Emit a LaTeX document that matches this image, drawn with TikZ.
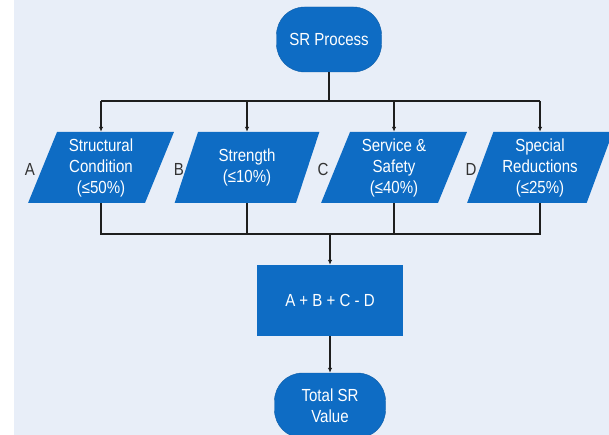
\documentclass[tikz,border=0pt]{standalone}
\usepackage{fontspec}
\setmainfont{Liberation Sans}[FakeStretch=0.86]
\usetikzlibrary{shapes.geometric,arrows.meta}
\definecolor{bgcol}{RGB}{232,238,248}
\definecolor{boxblue}{RGB}{14,108,196}
\definecolor{linecol}{RGB}{30,30,30}
\tikzset{
  txt/.style={font=\fontsize{17.5}{21}\selectfont, text=white, align=center},
  term/.style={txt, fill=boxblue, draw=boxblue!85!black, line width=0.4pt, rectangle, rounded corners=28pt, inner sep=0pt},
  para/.style={txt, fill=boxblue, draw=none, trapezium, trapezium left angle=70, trapezium right angle=110,
     trapezium stretches=true, minimum width=146pt, minimum height=71pt, inner sep=0pt},
  procbox/.style={txt, fill=boxblue, draw=none, rectangle, minimum width=146pt, minimum height=71pt},
  lab/.style={font=\fontsize{17.5}{21}\selectfont, text=black!80},
  conn/.style={draw=linecol, line width=1.3pt},
  arr/.style={conn, -{Latex[length=5pt,width=4.5pt]}}
}
\begin{document}
\begin{tikzpicture}[x=1pt,y=-1pt]
\useasboundingbox (0,0) rectangle (609,435);
\fill[bgcol] (14,0) rectangle (609,435);

\node[term, minimum width=105pt, minimum height=65pt] (sr) at (329,39.5) {SR Process};

\node[para] (A) at (101,167.5) {Structural\\Condition\\(≤50\%)};
\node[para] (B) at (247,167.5) {Strength\\(≤10\%)};
\node[para] (C) at (394,167.5) {Service \&\\Safety\\(≤40\%)};
\node[para] (D) at (540,167.5) {Special\\Reductions\\(≤25\%)};

\node[lab] (la) at (30,169) {A};
\node[lab] (lb) at (179,169) {B};
\node[lab] (lc) at (323,169) {C};
\node[lab] (ld) at (471,169) {D};

\node[procbox] (sum) at (330,300.5) {A + B + C - D};

\node[term, minimum width=111pt, minimum height=65pt] (tot) at (330,405.5) {Total SR\\Value};

\coordinate (tb) at (330,101);
\coordinate (bb) at (330,234);

\draw[conn] (sr.south) -- (sr.south |- tb);
\draw[conn] (A.north |- tb) -- (D.north |- tb);
\draw[arr] (A.north |- tb) -- (A.north);
\draw[arr] (B.north |- tb) -- (B.north);
\draw[arr] (C.north |- tb) -- (C.north);
\draw[arr] (D.north |- tb) -- (D.north);

\draw[conn] (A.south) -- (A.south |- bb) -- (D.south |- bb) -- (D.south);
\draw[conn] (B.south) -- (B.south |- bb);
\draw[conn] (C.south) -- (C.south |- bb);
\draw[arr] (bb) -- (sum.north);
\draw[arr] (sum.south) -- (tot.north);
\end{tikzpicture}
\end{document}
